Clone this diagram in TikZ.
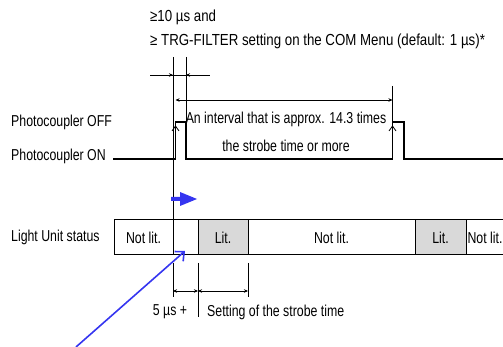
\documentclass[tikz,border=0pt]{standalone}
\usepackage{fontspec}
\setmainfont{Liberation Sans}[FakeStretch=0.78]
\newfontfamily\hdrfont{Liberation Sans}[FakeStretch=0.83]
\usetikzlibrary{positioning,arrows.meta}
\definecolor{markblue}{HTML}{3535F0}
\definecolor{litgray}{HTML}{D9D9D9}

\begin{document}
\begin{tikzpicture}[
  x=1pt, y=-1pt,
  font=\fontsize{15.8}{18}\selectfont,
  wave/.style={line width=1.1pt},
  guide/.style={line width=0.8pt},
  dimline/.style={line width=0.8pt, {Stealth[length=4pt,width=3.5pt]}-{Stealth[length=4pt,width=3.5pt]}},
  tipin/.style={line width=0.8pt, -{Stealth[length=4pt,width=3.5pt]}},
  lbl/.style={anchor=west, inner sep=0pt},
  hdr/.style={lbl, font=\hdrfont\fontsize{16}{18}\selectfont},
  cell/.style={draw, line width=1pt, minimum height=35pt, inner sep=0pt, outer sep=0pt, anchor=west},
  lit/.style={cell, fill=litgray},
  pointer/.style={draw=markblue, line width=1.6pt, -{Straight Barb[length=7pt,width=13pt]}},
]
\useasboundingbox (0,0) rectangle (503,347);
\clip (0,0) rectangle (503,347);

% headings
\node[hdr] (gap1) at (150,17) {≥10 µs and};
\node[hdr] (gap2) at (150,41) {≥ TRG-FILTER setting on the COM Menu (default: 1 µs)*};
\node[lbl] (off) at (11,122) {Photocoupler OFF};
\node[lbl] (on)  at (11,156) {Photocoupler ON};
\node[lbl] (lus) at (11,237) {Light Unit status};

% light unit status row
\node[cell, minimum width=59pt] (c1) at (114,237.5) {Not lit.};
\node[cell, minimum width=25pt, right=0pt of c1] (c2) {};
\node[lit,  minimum width=50pt, right=0pt of c2] (c3) {Lit.};
\node[cell, minimum width=167pt, right=0pt of c3] (c4) {Not lit.};
\node[lit,  minimum width=51pt, right=0pt of c4] (c5) {Lit.};
\node[cell, minimum width=38pt, right=0pt of c5] (c6) {Not lit.};

% photocoupler signal
\draw[wave] (113,159) -| (175.5,122) -| (186,159) -| (392.5,122) -| (404,159) -- (510,159);
\draw[guide] (172,131) -- (175.5,126) -- (179,131);
\draw[guide] (389,131) -- (392.5,126) -- (396,131);

% timing guides
\draw[guide] (173,57) -- (c2.north west);
\draw[guide] (186,57) -- (186,122);
\draw[guide] (392.5,86) -- (392.5,122);
\draw[guide] (173,263) -- (173,297);
\draw[guide] (198,263) -- (198,317);
\draw[guide] (248,263) -- (248,297);

% dimensions
\draw[guide] (150,75) -- (210,75);
\draw[tipin] (158,75) -- (173,75);
\draw[tipin] (201,75) -- (186,75);
\draw[dimline] (175.5,100) -- (392.5,100);
\draw[dimline] (173,291) -- (198,291);
\draw[dimline] (198,291) -- (248,291);

\node (intv1) at (286,119) {An interval that is approx. 14.3 times};
\node (intv2) at (286,146) {the strobe time or more};
\node (us5) at (170,312) {5 µs +};
\node[lbl] (strobe) at (207,312) {Setting of the strobe time};

% blue marks
\fill[markblue] (171,197) -- (180,197) -- (180,192) -- (197,199) -- (180,206) -- (180,201) -- (171,201) -- cycle;
\coordinate (ptrtail) at (76,347);
\coordinate (ptrtip) at (185,251);
\draw[pointer] (ptrtail) -- (ptrtip);
\end{tikzpicture}
\end{document}
